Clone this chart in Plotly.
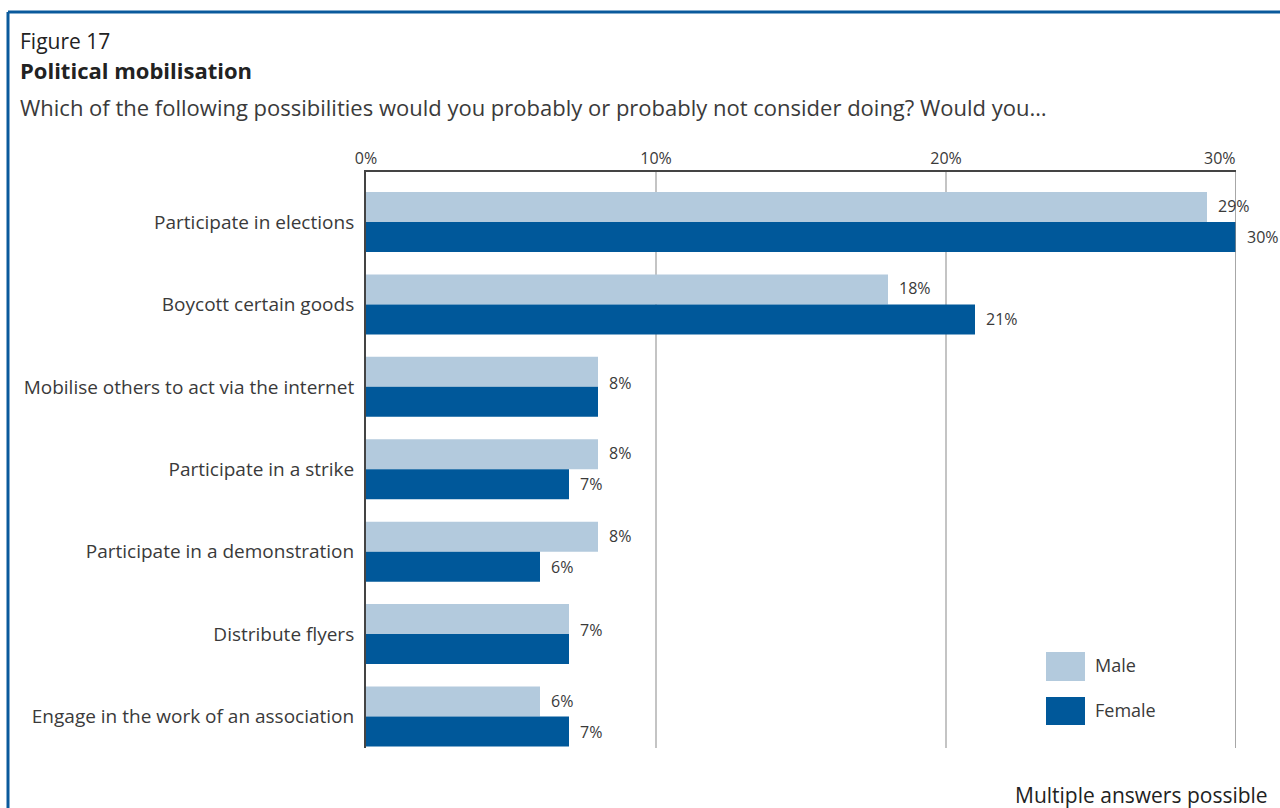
import plotly.graph_objects as go

# Survey answers, in display order (top to bottom)
categories = [
    "Participate in elections",
    "Boycott certain goods",
    "Mobilise others to act via the internet",
    "Participate in a strike",
    "Participate in a demonstration",
    "Distribute flyers",
    "Engage in the work of an association",
]
male = [29, 18, 8, 8, 8, 7, 6]
female = [30, 21, 8, 7, 6, 7, 7]
series_names = ["Male", "Female"]
tick_values = [0, 10, 20]
tick_labels = ["0%", "10%", "20%"]
axis_max = 30

MALE_COLOR = "#b3cadd"
FEMALE_COLOR = "#00589a"
TEXT = "#3a3a3a"
FONT = "Open Sans, Noto Sans, sans-serif"

W, H = 1280, 808
L, R, T, B = 366, 44, 172, 60
PW, PH = W - L - R, H - T - B


def px_x(x):
    return (x - L) / PW


def px_y(y):
    return (H - B - y) / PH


fig = go.Figure()
for name, vals, color in [(series_names[0], male, MALE_COLOR), (series_names[1], female, FEMALE_COLOR)]:
    fig.add_trace(go.Bar(
        y=categories, x=vals, name=name, orientation="h",
        marker=dict(color=color, line=dict(width=0)),
        showlegend=False, hoverinfo="x+y+name",
    ))

# Value labels: one per bar, or a single shared label when both bars are equal
value_labels = []
for cat, m, f in zip(categories, male, female):
    if m == f:
        value_labels.append(dict(x=m, y=cat, text=f"{m}%", yshift=4))
    else:
        value_labels.append(dict(x=m, y=cat, text=f"{m}%", yshift=16))
        value_labels.append(dict(x=f, y=cat, text=f"{f}%", yshift=-15))
for a in value_labels:
    a.update(xref="x", yref="y", xanchor="left", yanchor="middle", xshift=9,
             showarrow=False, font=dict(size=16, color=TEXT, family=FONT))

shapes = [
    # right frame line at the axis maximum
    dict(type="line", xref="x", yref="paper", x0=axis_max, x1=axis_max, y0=0, y1=1,
         line=dict(color="#8a8a8a", width=1.5), layer="above"),
    # blue page border (top and left)
    dict(type="line", xref="paper", yref="paper", x0=px_x(8), x1=px_x(1282),
         y0=px_y(12), y1=px_y(12), line=dict(color="#0a5a9c", width=3)),
    dict(type="line", xref="paper", yref="paper", x0=px_x(8), x1=px_x(8),
         y0=px_y(12), y1=px_y(812), line=dict(color="#0a5a9c", width=3)),
    # legend swatches
    dict(type="rect", xref="paper", yref="paper", x0=px_x(1046), x1=px_x(1085),
         y0=px_y(681), y1=px_y(652), fillcolor=MALE_COLOR, line=dict(width=0)),
    dict(type="rect", xref="paper", yref="paper", x0=px_x(1046), x1=px_x(1085),
         y0=px_y(725), y1=px_y(697), fillcolor=FEMALE_COLOR, line=dict(width=0)),
]

annotations = [
    dict(text="Figure 17", x=px_x(18), y=px_y(41), font=dict(size=21, color="#222")),
    dict(text="<b>Political mobilisation</b>", x=px_x(18), y=px_y(70), font=dict(size=22, color="#222")),
    dict(text="Which of the following possibilities would you probably or probably not consider doing? Would you…",
         x=px_x(18), y=px_y(107), font=dict(size=22, color=TEXT)),
    dict(text="Male", x=px_x(1093), y=px_y(665), font=dict(size=18, color=TEXT)),
    dict(text="Female", x=px_x(1093), y=px_y(710), font=dict(size=18, color=TEXT)),
    dict(text="Multiple answers possible", x=px_x(1270), y=px_y(795), xanchor="right",
         font=dict(size=21, color="#222")),
]
for a in annotations:
    a.setdefault("xanchor", "left")
    a.update(xref="paper", yref="paper", yanchor="middle", showarrow=False)
    a["font"]["family"] = FONT

# last axis label sits flush with the right end of the axis
end_label = dict(text=f"{axis_max}%", x=axis_max, y=px_y(158), xref="x", yref="paper",
                 xanchor="right", yanchor="middle", xshift=2, showarrow=False,
                 font=dict(size=16, color=TEXT, family=FONT))

fig.update_layout(
    width=W, height=H,
    margin=dict(l=L, r=R, t=T, b=B, autoexpand=False),
    paper_bgcolor="white", plot_bgcolor="white",
    barmode="group", bargap=0.272, bargroupgap=0,
    font=dict(family=FONT, color=TEXT),
    xaxis=dict(
        side="top", range=[0, axis_max], tickvals=tick_values, ticktext=tick_labels,
        showgrid=True, gridcolor="#c4c4c4", gridwidth=1.5,
        showline=True, linecolor="#444", linewidth=2,
        ticks="", tickfont=dict(size=16, color=TEXT), zeroline=False,
    ),
    yaxis=dict(
        categoryorder="array", categoryarray=categories,
        range=[6.382, -0.607],
        showline=True, linecolor="#444", linewidth=2,
        ticks="", ticklabelstandoff=6, tickfont=dict(size=19, color=TEXT),
        showgrid=False, zeroline=False,
    ),
    shapes=shapes, annotations=value_labels + annotations + [end_label],
)

fig.write_html("out.html")
